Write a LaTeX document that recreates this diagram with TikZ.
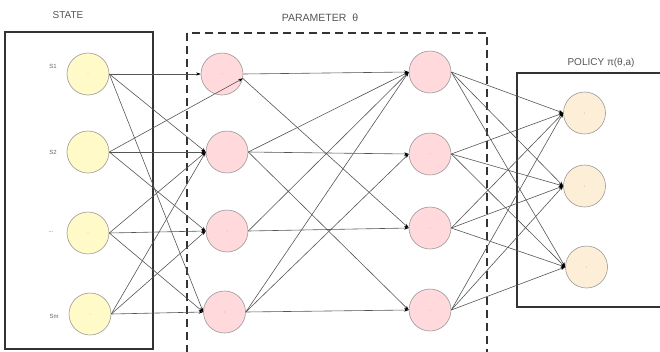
\documentclass[tikz,border=0pt]{standalone}
\usepackage{fontspec}
\setmainfont{Liberation Sans}
\usetikzlibrary{arrows.meta}
\definecolor{stfill}{HTML}{FFFAC8}
\definecolor{pmfill}{HTML}{FFD9DC}
\definecolor{pcfill}{HTML}{FDEFD7}
\definecolor{ringgray}{HTML}{999999}
\definecolor{linegray}{HTML}{555555}
\definecolor{framegray}{HTML}{333333}
\definecolor{textgray}{HTML}{555555}
\begin{document}
\begin{tikzpicture}[x=1pt,y=-1pt,
  neuron/.style={circle,draw=ringgray,line width=0.6pt,minimum size=42pt,inner sep=0pt},
  stnode/.style={neuron,fill=stfill},
  pmnode/.style={neuron,fill=pmfill},
  pcnode/.style={neuron,fill=pcfill},
  conn/.style={draw=linegray,line width=0.6pt,-{Stealth[length=4.5pt,width=3.2pt,color=black]}},
  frame/.style={draw=framegray,line width=1.1pt},
  title/.style={text=textgray,font=\fontsize{10}{12}\selectfont,inner sep=0pt},
  tag/.style={text=textgray!90,font=\fontsize{6}{7}\selectfont,inner sep=0pt},
  cdot/.style={fill=ringgray}
]
\useasboundingbox (0,0) rectangle (660,351);
\clip (0,0) rectangle (660,351);

% frames
\draw[frame] (5,32) rectangle (153,349);
\draw[frame,dash pattern=on 8pt off 5pt] (187,33) rectangle (487,370);
\draw[frame] (517,73) rectangle (680,307);

% titles
\node[title] (tstate) at (68,15) {STATE};
\node[title,font=\fontsize{10.5}{12}\selectfont] (tparam) at (320,18) {PARAMETER\ \ θ};
\node[title] (tpolicy) at (601,63) {POLICY π(θ,a)};

% state nodes
\node[stnode] (S1) at (88,74) {};
\node[stnode] (S2) at (88,152) {};
\node[stnode] (S3) at (88,233) {};
\node[stnode] (Sm) at (90,314) {};
\node[tag] (lS1) at (53,66) {S1};
\node[tag] (lS2) at (53,152) {S2};
\node[tag] (lS3) at (51,232) {...};
\node[tag] (lSm) at (54,316) {Sm};

% hidden layer 1
\node[pmnode] (A1) at (222,74) {};
\node[pmnode] (A2) at (227,152) {};
\node[pmnode] (A3) at (227,231) {};
\node[pmnode] (A4) at (224.5,312) {};

% hidden layer 2
\node[pmnode] (B1) at (430,72) {};
\node[pmnode] (B2) at (430,154) {};
\node[pmnode] (B3) at (430,228) {};
\node[pmnode] (B4) at (430,310) {};

% policy
\node[pcnode] (P1) at (584.5,113) {};
\node[pcnode] (P2) at (584.5,186) {};
\node[pcnode] (P3) at (586.5,267) {};

% center dots
\foreach \n in {S1,S2,S3,Sm,A1,A2,A3,A4,B1,B2,B3,B4,P1,P2,P3}
  \fill[cdot] (\n) circle (0.45pt);

% state -> layer 1
\draw[conn] (S1.east) -- (A1.west);
\draw[conn] (S1.east) -- (A2.west);
\draw[conn] (S1.east) -- (A4.west);
\draw[conn] (S2.east) -- (A1.-12);
\draw[conn] (S2.east) -- (A2.west);
\draw[conn] (S2.east) -- (A3.west);
\draw[conn] (S3.east) -- (A2.west);
\draw[conn] (S3.east) -- (A3.west);
\draw[conn] (S3.east) -- (A4.west);
\draw[conn] (Sm.east) -- (A2.west);
\draw[conn] (Sm.east) -- (A3.west);
\draw[conn] (Sm.east) -- (A4.west);

% layer 1 -> layer 2
\draw[conn] (A1.east) -- (B1.west);
\draw[conn] (A1.-12) -- (B3.west);
\draw[conn] (A2.east) -- (B1.west);
\draw[conn] (A2.east) -- (B2.west);
\draw[conn] (A2.east) -- (B4.west);
\draw[conn] (A3.east) -- (B1.west);
\draw[conn] (A3.east) -- (B3.west);
\draw[conn] (A4.east) -- (B1.west);
\draw[conn] (A4.east) -- (B2.west);
\draw[conn] (A4.east) -- (B4.west);

% layer 2 -> policy
\foreach \b in {B1,B2,B3,B4}
  \foreach \p in {P1,P2,P3}
    \draw[conn] (\b.east) -- (\p.west);
\end{tikzpicture}
\end{document}
